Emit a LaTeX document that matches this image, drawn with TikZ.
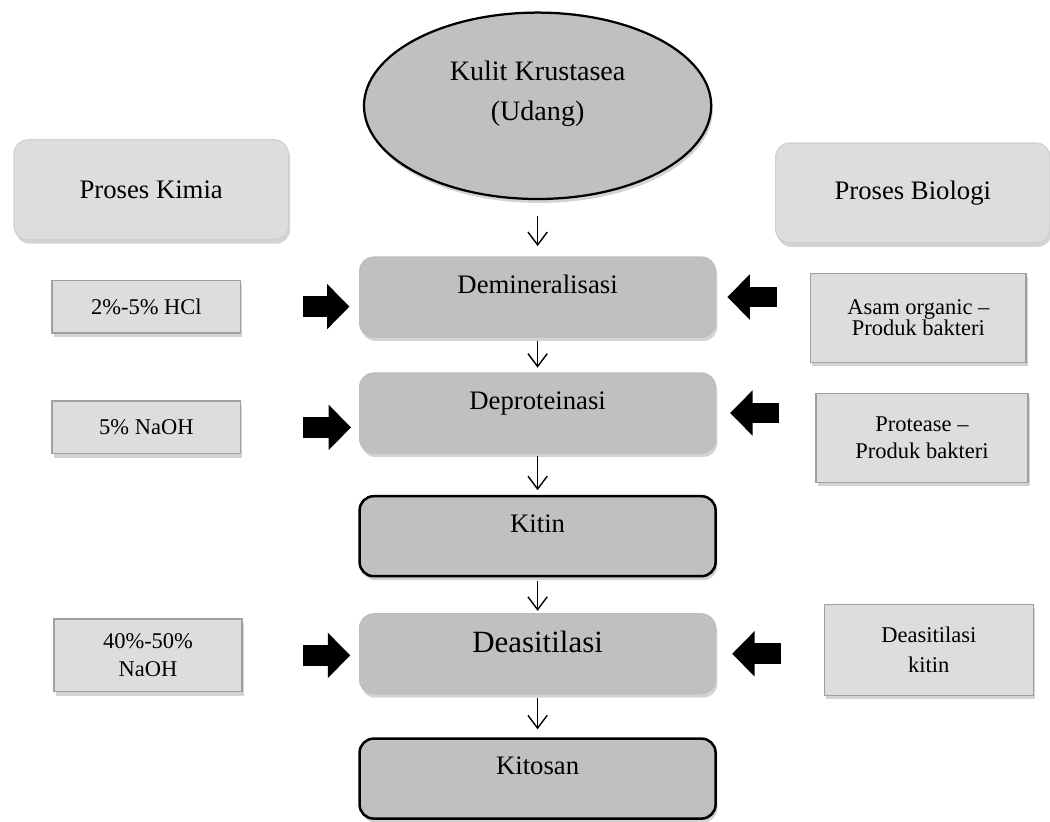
\documentclass[tikz,border=0pt]{standalone}
\usepackage{fontspec}
\setmainfont{Liberation Serif}
\usepackage{xcolor}
\usetikzlibrary{arrows.meta,positioning,calc,shapes.geometric,shadows}
\definecolor{stepgray}{RGB}{192,192,192}
\definecolor{panelgray}{RGB}{221,221,221}
\definecolor{rimgray}{RGB}{160,160,160}

\begin{document}
\begin{tikzpicture}[
  font=\fontsize{9.5}{11.5}\selectfont,
  every node/.style={align=center},
  softshadow/.style = {drop shadow={shadow xshift=0.6pt, shadow yshift=-1.4pt, opacity=0.35}},
  base/.style    = {rounded corners=5pt, text centered, inner sep=2pt, text=black, softshadow},
  procnd/.style  = {base, fill=panelgray, draw=rimgray!50, minimum width=3.43cm, minimum height=1.25cm},
  stepnd/.style  = {base, fill=stepgray, draw=rimgray!70, minimum width=4.45cm, minimum height=1.00cm,
                    text height=0.25cm, text depth=0.35cm},
  keynd/.style   = {stepnd, draw=black, line width=0.9pt},
  agentnd/.style = {draw=rimgray, fill=panelgray, softshadow, inner sep=2pt, text=black,
                    font=\fontsize{8}{10}\selectfont, minimum height=0.66cm},
  srcnd/.style   = {ellipse, draw=black, line width=0.8pt, fill=stepgray, font=\fontsize{10}{14}\selectfont,
                    minimum width=4.34cm, minimum height=2.33cm, softshadow, text depth=0.38cm},
  flow/.style    = {-{Straight Barb[length=1.6mm, width=2.4mm]}, line width=0.5pt,
                    shorten <=1pt, shorten >=1.5pt},
  push/.style    = {-{Triangle[length=0.28cm, width=0.55cm]}, line width=0.26cm}
]
\useasboundingbox (0,0) rectangle (13.125,10.2625);

\node[srcnd] (shell) at (6.72, 8.94) {Kulit Krustasea\\(Udang)};
\node[procnd] (chem) at (1.89, 7.89) {Proses Kimia};
\node[procnd] (bio) at (11.41, 7.85) {Proses Biologi};

\node[stepnd] (demin) at (6.72, 6.55) {Demineralisasi};
\node[stepnd] (deprot) at (6.72, 5.10) {Deproteinasi};
\node[keynd] (chitin) at (6.72, 3.56) {Kitin};
\node[stepnd, font=\fontsize{11}{13}\selectfont, text depth=0.28cm] (deacet) at (6.72, 2.09) {Deasitilasi};
\node[keynd] (chitosan) at (6.72, 0.53) {Kitosan};

\node[agentnd, minimum width=2.36cm] (hcl) at (1.83, 6.43) {2\%-5\% HCl};
\node[agentnd, minimum width=2.36cm] (naoh) at (1.83, 4.92) {5\% NaOH};
\node[agentnd, minimum width=2.35cm, minimum height=0.91cm] (naohhi) at (1.85, 2.07) {40\%-50\%\\NaOH};
\node[agentnd, minimum width=2.69cm, minimum height=1.11cm, font=\fontsize{8}{7.5}\selectfont] (acid) at (11.48, 6.29)
  {Asam organic --\\Produk bakteri};
\node[agentnd, minimum width=2.65cm, minimum height=1.11cm, font=\fontsize{8}{9.6}\selectfont] (prot) at (11.525, 4.79)
  {Protease --\\Produk bakteri};
\node[agentnd, minimum width=2.61cm, minimum height=1.14cm, font=\fontsize{8}{11}\selectfont] (enz) at (11.61, 2.14)
  {Deasitilasi\\kitin};

% main chain
\draw[flow, shorten <=0.20cm, shorten >=0.13cm] (shell) -- (demin);
\draw[flow, shorten <=0.04cm, shorten >=0.06cm] (demin) -- (deprot);
\draw[flow, shorten <=0.03cm, shorten >=0.06cm] (deprot) -- (chitin);
\draw[flow, shorten <=0.05cm, shorten >=0.03cm] (chitin) -- (deacet);
\draw[flow, shorten <=0.05cm, shorten >=0.10cm] (deacet) -- (chitosan);

% chemical inputs
\draw[push, shorten <=0.765cm, shorten >=0.12cm] (hcl.east) -- (hcl.east -| demin.west);
\draw[push, shorten <=0.775cm, shorten >=0.10cm] (naoh.east) -- (naoh.east -| deprot.west);
\draw[push, shorten <=0.76cm, shorten >=0.11cm] (naohhi.east) -- (naohhi.east -| deacet.west);

% biological inputs
\draw[push, shorten <=0.42cm, shorten >=0.14cm] (acid.west |- demin.east) -- (demin.east);
\draw[push, shorten <=0.45cm, shorten >=0.175cm] (prot.west |- deprot.east) -- (deprot.east);
\draw[push, shorten <=0.53cm, shorten >=0.20cm] (enz.west |- deacet.east) -- (deacet.east);
\end{tikzpicture}
\end{document}
